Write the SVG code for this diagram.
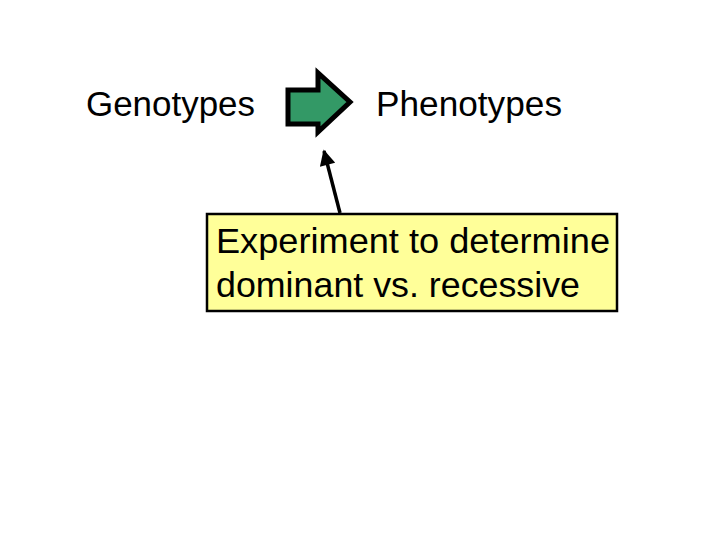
<svg xmlns="http://www.w3.org/2000/svg" width="720" height="540" viewBox="0 0 720 540">
<style>
.t{font-family:"Liberation Sans",Arial,sans-serif;font-size:35px;fill:#000}
</style>
<defs>
<marker id="ah" viewBox="0 0 10 10" refX="9" refY="5" markerWidth="5.5" markerHeight="4.5" orient="auto" markerUnits="strokeWidth">
<path d="M0,0 L10,5 L0,10 Z" fill="#000"/>
</marker>
</defs>
<rect width="720" height="540" fill="#fff"/>
<g id="genotypes"><text class="t" x="86" y="116" textLength="169" lengthAdjust="spacingAndGlyphs">Genotypes</text></g>
<g id="green-arrow"><polygon points="288,90 318,90 318,73 350,102 318,132 318,124 288,124" fill="#339966" stroke="#000" stroke-width="5" stroke-linejoin="miter"/></g>
<g id="phenotypes"><text class="t" x="376" y="116" textLength="186" lengthAdjust="spacingAndGlyphs">Phenotypes</text></g>
<g id="experiment-box">
<rect x="207" y="214" width="410" height="97" fill="#ffff99" stroke="#000" stroke-width="2.5"/>
<text class="t" x="216" y="253" textLength="394" lengthAdjust="spacingAndGlyphs">Experiment to determine</text>
<text class="t" x="216" y="297" textLength="364" lengthAdjust="spacingAndGlyphs">dominant vs. recessive</text>
</g>
<g id="connectors">
<line x1="340" y1="213" x2="324" y2="151" stroke="#000" stroke-width="3.5" marker-end="url(#ah)"/>
</g>
</svg>
